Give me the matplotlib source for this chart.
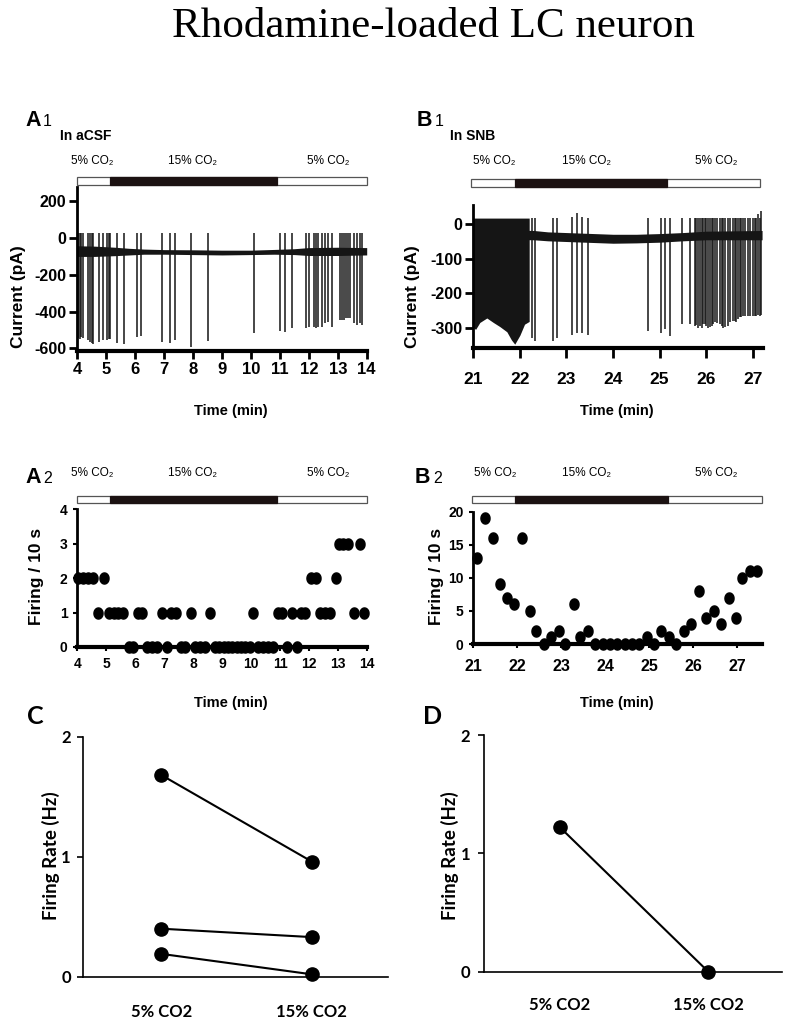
import numpy as np
import matplotlib
matplotlib.use("Agg")
import matplotlib.pyplot as plt
import matplotlib.transforms as mtransforms
from matplotlib.patches import Rectangle

plt.rcParams['axes.unicode_minus'] = False

W, H = 794, 1031
NARROW = ['Liberation Sans Narrow', 'Liberation Sans', 'DejaVu Sans']
SANS = ['Liberation Sans', 'DejaVu Sans']
CAL = ['Lato', 'DejaVu Sans']
TRACE = '#151515'

# ---------------- data ----------------
# A1: current trace in aCSF (baseline band + spikes)
a1_band_t = [4.0, 4.6, 5.3, 5.8, 6.3, 7.0, 8.0, 9.0, 10.0, 10.8, 11.5, 12.0, 13.0, 14.0]
a1_band_hi = [-42, -44, -50, -56, -60, -63, -64, -66, -66, -62, -58, -52, -50, -52]
a1_band_lo = [-100, -100, -96, -92, -88, -88, -90, -92, -90, -88, -90, -95, -95, -92]
a1_spike_t = [4.03, 4.08, 4.12, 4.19, 4.38, 4.45, 4.50, 4.55, 4.76, 4.90, 5.04, 5.09, 5.13,
              5.38, 5.62, 6.06, 6.19, 6.92, 7.21, 7.38, 7.92, 8.53, 10.12, 11.01, 11.16,
              11.42, 11.91, 11.99, 12.17, 12.26, 12.30, 12.46, 12.57, 12.65, 12.80, 13.07,
              13.15, 13.20, 13.30, 13.34, 13.44, 13.55, 13.67, 13.76, 13.84]
a1_spike_lo = [-545, -550, -537, -546, -555, -565, -573, -575, -568, -555, -555, -552, -550,
               -573, -576, -540, -532, -564, -570, -557, -591, -560, -518, -506, -510,
               -491, -491, -482, -482, -491, -485, -482, -464, -455, -482, -446,
               -446, -446, -437, -437, -437, -464, -473, -464, -473]
a1_spike_hi = 30

# B1: current trace in SNB
b1_band_t = [21.0, 22.3, 22.6, 23.0, 23.6, 24.0, 24.5, 25.0, 25.5, 26.0, 27.2]
b1_band_hi = [-15, -18, -22, -24, -27, -29, -29, -27, -24, -20, -18]
b1_band_lo = [-42, -45, -48, -50, -53, -55, -54, -52, -48, -45, -45]
b1_burst_t = [21.0, 21.05, 21.14, 21.29, 21.43, 21.57, 21.72, 21.82, 21.89, 22.0, 22.1, 22.2]
b1_burst_lo = [-300, -305, -285, -272, -285, -297, -312, -336, -348, -322, -290, -282]
b1_burst_hi = [18, 18, 18, 18, 18, 18, 18, 18, 18, 18, 18, 18]
b1_spike_t = [21.0, 22.25, 22.32, 22.72, 22.79, 23.11, 23.22, 23.33, 23.47, 24.76, 25.04, 25.11,
              25.22, 25.49, 25.65, 25.76, 25.79, 25.83, 25.87, 25.90, 25.94, 25.97, 26.00,
              26.04, 26.08, 26.12, 26.15, 26.19, 26.23, 26.29, 26.33, 26.36, 26.41, 26.47,
              26.52, 26.58, 26.61, 26.65, 26.69, 26.72, 26.75, 26.79, 26.84, 26.90, 26.95,
              27.01, 27.04, 27.08, 27.11, 27.15, 27.18]
b1_spike_lo = [-300, -330, -340, -340, -330, -320, -315, -315, -320, -310, -315, -305,
               -325, -290, -290, -296, -292, -300, -295, -300, -290, -290, -295,
               -300, -298, -295, -290, -285, -288, -290, -295, -300, -298, -295,
               -285, -280, -282, -285, -275, -270, -268, -265, -265, -265, -265,
               -265, -265, -265, -262, -265, -262]
b1_spike_hi = [56, 18, 18, 18, 18, 20, 34, 20, 18, 18, 18, 18,
               18, 18, 18, 18, 18, 18, 18, 18, 18, 18, 18,
               18, 18, 18, 18, 18, 18, 18, 18, 18, 18, 18,
               18, 18, 18, 18, 18, 18, 18, 18, 18, 18, 18,
               18, 18, 18, 30, 18, 40]

# A2: firing per 10 s bins
a2_t = [4.04, 4.20, 4.37, 4.54, 4.73, 4.93, 5.08, 5.25, 5.42, 5.58, 5.78, 5.92, 6.08, 6.22,
        6.42, 6.58, 6.75, 6.92, 7.08, 7.25, 7.40, 7.58, 7.72, 7.92, 8.08, 8.25, 8.40, 8.58,
        8.75, 8.90, 9.05, 9.20, 9.35, 9.50, 9.65, 9.80, 9.95, 10.08, 10.25, 10.42, 10.58,
        10.75, 10.92, 11.05, 11.25, 11.40, 11.58, 11.72, 11.86, 12.08, 12.24, 12.38, 12.55,
        12.72, 12.93, 13.02, 13.18, 13.35, 13.55, 13.76, 13.90]
a2_n = [2, 2, 2, 2, 1, 2, 1, 1, 1, 1, 0, 0, 1, 1,
        0, 0, 0, 1, 0, 1, 1, 0, 0, 1, 0, 0, 0, 1,
        0, 0, 0, 0, 0, 0, 0, 0, 0, 1, 0, 0, 0,
        0, 1, 1, 0, 1, 0, 1, 1, 2, 2, 1, 1,
        1, 2, 3, 3, 3, 1, 3, 1]

# B2: firing per 10 s bins
b2_t = [21.09, 21.27, 21.44, 21.60, 21.76, 21.93, 22.10, 22.28, 22.43, 22.61, 22.76, 22.95,
        23.09, 23.28, 23.43, 23.62, 23.77, 23.95, 24.10, 24.27, 24.44, 24.61, 24.78, 24.95,
        25.12, 25.28, 25.45, 25.61, 25.79, 25.96, 26.14, 26.30, 26.47, 26.63, 26.81, 26.97,
        27.12, 27.29, 27.46]
b2_n = [13, 19, 16, 9, 7, 6, 16, 5, 2, 0, 1, 2,
        0, 6, 1, 2, 0, 0, 0, 0, 0, 0, 0, 1,
        0, 2, 1, 0, 2, 3, 8, 4, 5, 3, 7, 4,
        10, 11, 11]

# CO2 bars: [bar start, 15% start, 15% end, bar end] in minutes
a_bar = [4.0, 5.13, 10.9, 14.0]
b1_bar = [20.94, 21.9, 25.15, 27.15]
b2_bar = [20.96, 21.95, 25.44, 27.56]

# C, D: firing rate per cell
groups = ['5% CO2', '15% CO2']
c_5 = [1.68, 0.40, 0.19]
c_15 = [0.96, 0.33, 0.02]
d_5 = [1.22]
d_15 = [0.0]

# ---------------- helpers ----------------
fig = plt.figure(figsize=(W / 100, H / 100), dpi=100)


def box(l, r, t, b):
    return [l / W, 1 - b / H, (r - l) / W, (b - t) / H]


def ftext(x, y, s, **kw):
    fig.text(x / W, 1 - y / H, s, **kw)


def co2_bar(ax, edges, top_px, bot_px):
    tr = mtransforms.blended_transform_factory(ax.transData, fig.transFigure)
    y0 = 1 - bot_px / H
    h = (bot_px - top_px) / H
    ax.add_patch(Rectangle((edges[0], y0), edges[3] - edges[0], h, transform=tr,
                           facecolor='white', edgecolor='#555555', lw=0.9, clip_on=False))
    ax.add_patch(Rectangle((edges[1], y0), edges[2] - edges[1], h, transform=tr,
                           facecolor='#1c1212', edgecolor='#1c1212', lw=0.9, clip_on=False))


def style_ticks(ax, fam, xsize, ysize):
    for lbl in ax.get_xticklabels():
        lbl.set_fontfamily(fam); lbl.set_fontweight('bold'); lbl.set_fontsize(xsize)
    for lbl in ax.get_yticklabels():
        lbl.set_fontfamily(fam); lbl.set_fontweight('bold'); lbl.set_fontsize(ysize)


def trace_axes(ax, lw_left, lw_bottom):
    ax.spines['top'].set_visible(False)
    ax.spines['right'].set_visible(False)
    ax.spines['left'].set_linewidth(lw_left)
    ax.spines['bottom'].set_linewidth(lw_bottom)
    ax.patch.set_alpha(0)


ell = [(0.82 * np.cos(a), np.sin(a)) for a in np.linspace(0, 2 * np.pi, 41)]

# ---------------- title ----------------
ftext(433, 27, 'Rhodamine-loaded LC neuron', family=['Liberation Serif', 'DejaVu Serif'],
      fontsize=31, ha='center', va='center')

# ---------------- A1 ----------------
ax = fig.add_axes(box(77.3, 366.7, 187, 351))
ax.fill_between(a1_band_t, a1_band_lo, a1_band_hi, color=TRACE, lw=0)
ax.vlines(a1_spike_t, a1_spike_lo, a1_spike_hi, color=TRACE, lw=1.1)
ax.set_xlim(4, 14)
ax.set_ylim(-615, 278)
ax.set_xticks(range(4, 15))
ax.set_yticks([-600, -400, -200, 0, 200])
ax.set_yticklabels(['-600', '-400', '-200', '0', '200'])
trace_axes(ax, 2.0, 3.0)
ax.tick_params(axis='x', length=6, width=2.0, pad=2)
ax.tick_params(axis='y', length=6, width=2.0, pad=2)
style_ticks(ax, NARROW, 12, 11.5)
co2_bar(ax, a_bar, 177, 185)

# ---------------- B1 ----------------
ax = fig.add_axes(box(473.3, 763, 205, 348.3))
ax.fill_between(b1_band_t, b1_band_lo, b1_band_hi, color=TRACE, lw=0)
ax.fill_between(b1_burst_t, b1_burst_lo, b1_burst_hi, color=TRACE, lw=0)
ax.vlines(b1_spike_t, b1_spike_lo, b1_spike_hi, color=TRACE, lw=1.1)
ax.set_xlim(21, 27.22)
ax.set_ylim(-360, 56)
ax.set_xticks(range(21, 28))
ax.set_yticks([-300, -200, -100, 0])
ax.set_yticklabels(['-300', '-200', '-100', '0'])
trace_axes(ax, 2.0, 3.0)
ax.tick_params(axis='x', length=7, width=2.0, pad=10)
ax.tick_params(axis='y', length=6, width=2.0, pad=2)
style_ticks(ax, NARROW, 12.5, 11.5)
co2_bar(ax, b1_bar, 179, 187)

# ---------------- A2 ----------------
ax = fig.add_axes(box(77.3, 367, 509.3, 647))
ax.plot(a2_t, a2_n, linestyle='none', marker=ell, markersize=8, color='black', clip_on=False, zorder=3)
ax.set_xlim(4, 14)
ax.set_ylim(0, 4)
ax.set_xticks(range(4, 15))
ax.set_yticks(range(0, 5))
trace_axes(ax, 2.0, 3.0)
ax.tick_params(axis='x', length=3, width=1.5, pad=4)
ax.tick_params(axis='y', length=3, width=1.5, pad=4)
style_ticks(ax, NARROW, 10, 10)
co2_bar(ax, a_bar, 496, 503)

# ---------------- B2 ----------------
ax = fig.add_axes(box(473.3, 761.7, 511.7, 644))
ax.plot(b2_t, b2_n, linestyle='none', marker=ell, markersize=8, color='black', clip_on=False, zorder=3)
ax.set_xlim(21, 27.56)
ax.set_ylim(0, 20)
ax.set_xticks(range(21, 28))
ax.set_yticks(range(0, 21, 5))
trace_axes(ax, 2.0, 3.0)
ax.tick_params(axis='x', length=3, width=1.5, pad=8)
ax.tick_params(axis='y', length=3, width=1.5, pad=4)
style_ticks(ax, NARROW, 11.5, 10)
co2_bar(ax, b2_bar, 496, 503)

# ---------------- C ----------------
ax = fig.add_axes(box(83.3, 388.3, 736.7, 976.7))
for v5, v15 in zip(c_5, c_15):
    ax.plot([1, 2], [v5, v15], color='black', lw=1.5, marker='o', markersize=9.5, clip_on=False, zorder=3)
ax.set_xlim(0.48, 2.51)
ax.set_ylim(0, 2.0)
ax.set_xticks([1, 2])
ax.set_xticklabels(groups)
ax.set_yticks([0, 1, 2])
trace_axes(ax, 1.2, 1.2)
ax.tick_params(axis='x', length=0, pad=20)
ax.tick_params(axis='y', length=4, width=1.2, pad=5)
style_ticks(ax, CAL, 12, 12)

# ---------------- D ----------------
ax = fig.add_axes(box(484.3, 781.7, 735, 971.7))
for v5, v15 in zip(d_5, d_15):
    ax.plot([1, 2], [v5, v15], color='black', lw=1.5, marker='o', markersize=9.5, clip_on=False, zorder=3)
ax.set_xlim(0.49, 2.495)
ax.set_ylim(0, 2.0)
ax.set_xticks([1, 2])
ax.set_xticklabels(groups)
ax.set_yticks([0, 1, 2])
trace_axes(ax, 1.2, 1.2)
ax.tick_params(axis='x', length=0, pad=18)
ax.tick_params(axis='y', length=4, width=1.2, pad=6)
style_ticks(ax, CAL, 12, 12)

# ---------------- panel texts ----------------
for letter, digit, x0, y0 in [('A', '1', 25, 126), ('B', '1', 417, 126),
                              ('A', '2', 25, 483), ('B', '2', 415, 483)]:
    ftext(x0, y0, letter, family=SANS, fontweight='bold', fontsize=15.5, va='baseline', ha='left')
    ftext(x0 + 18, y0, digit, family=SANS, fontsize=11.5, va='baseline', ha='left')
ftext(60, 140, 'In aCSF', family=SANS, fontweight='bold', fontsize=10, va='baseline')
ftext(450, 140, 'In SNB', family=SANS, fontweight='bold', fontsize=10, va='baseline')

co2_labels = ['5% CO\u2082', '15% CO\u2082', '5% CO\u2082']
for xs, y in [((92, 192, 328), 161), ((494, 586, 716), 161),
              ((92, 192, 328), 473), ((495, 587, 716), 473)]:
    for x, s in zip(xs, co2_labels):
        ftext(x, y, s, family=SANS, fontsize=8.5, ha='center', va='center')

for x, y in [(231, 411), (617, 411), (231, 703), (617, 703)]:
    ftext(x, y, 'Time (min)', family=NARROW, fontweight='bold', fontsize=10.5, ha='center', va='center')
for x in (19, 413):
    ftext(x, 297, 'Current (pA)', family=SANS, fontweight='bold', fontsize=12.5,
          rotation=90, ha='center', va='center')
for x in (36, 437):
    ftext(x, 576, 'Firing / 10 s', family=SANS, fontweight='bold', fontsize=12.5,
          rotation=90, ha='center', va='center')
for x in (51, 450):
    ftext(x, 856, 'Firing Rate (Hz)', family=CAL, fontweight='bold', fontsize=13.5,
          rotation=90, ha='center', va='center')
ftext(35, 716, 'C', family=CAL, fontweight='bold', fontsize=18, ha='center', va='center')
ftext(433, 717, 'D', family=CAL, fontweight='bold', fontsize=18, ha='center', va='center')

fig.savefig('out.png', dpi=100)
